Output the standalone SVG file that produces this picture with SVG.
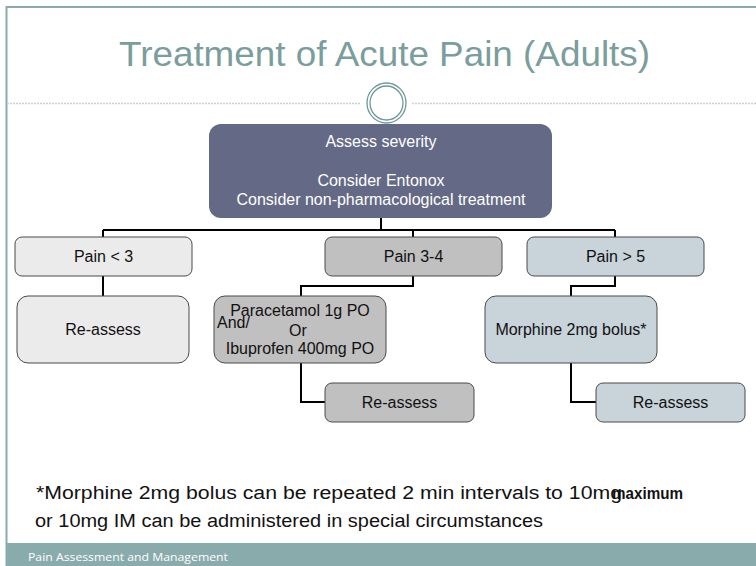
<svg xmlns="http://www.w3.org/2000/svg" width="756" height="566" viewBox="0 0 756 566">
  <style>
    .frame { stroke: #8aabab; stroke-width: 2; fill: none; }
    .dots { stroke: #c9d2d2; stroke-width: 1.5; stroke-dasharray: 2 1; fill: none; }
    .title { font-family: "Liberation Sans Narrow", "Liberation Sans", Arial, sans-serif; font-size: 35px; fill: #7a9d9d; }
    .box { stroke: #4a4a4a; stroke-width: 1; }
    .lbl { font-family: "Liberation Sans", Arial, sans-serif; font-size: 16px; fill: #111; text-anchor: middle; }
    .lbl-w { font-family: "Liberation Sans", Arial, sans-serif; font-size: 16px; fill: #ffffff; text-anchor: middle; }
    .wire { stroke: #000; stroke-width: 2; fill: none; }
    .note { font-family: "Liberation Sans Narrow", "Liberation Sans", Arial, sans-serif; font-size: 18px; fill: #111; }
    .foot { font-family: "Open Sans", "Liberation Sans", sans-serif; font-size: 11px; fill: #ffffff; }
  </style>

  <!-- slide frame -->
  <rect x="0" y="0" width="756" height="566" fill="#ffffff"/>
  <line class="frame" x1="6" y1="7" x2="756" y2="7"/>
  <line class="frame" x1="6.5" y1="6" x2="6.5" y2="566"/>

  <!-- title -->
  <text class="title" x="119" y="66" textLength="531" lengthAdjust="spacingAndGlyphs">Treatment of Acute Pain (Adults)</text>

  <!-- divider with ring ornament -->
  <line class="dots" x1="7" y1="103.5" x2="361" y2="103.5"/>
  <line class="dots" x1="412" y1="103.5" x2="756" y2="103.5"/>
  <ellipse cx="386.5" cy="103" rx="19.5" ry="20" fill="#ffffff" stroke="#6f9797" stroke-width="1.3"/>
  <ellipse cx="386.5" cy="103" rx="16.5" ry="17" fill="none" stroke="#6f9797" stroke-width="1.3"/>

  <!-- connectors -->
  <g id="connectors">
    <path class="wire" d="M381 218 V230"/>
    <path class="wire" d="M103 230 H615"/>
    <path class="wire" d="M103 230 V237 M413 230 V237 M615 230 V237"/>
    <path class="wire" d="M103 276 V296"/>
    <path class="wire" d="M413 276 V286 H301 V296"/>
    <path class="wire" d="M301 363 V402 H325"/>
    <path class="wire" d="M615 276 V286 H571 V296"/>
    <path class="wire" d="M571 363 V402 H596"/>
  </g>

  <!-- nodes -->
  <g id="assess">
    <rect x="209" y="124" width="343" height="94" rx="12" fill="#646a86"/>
    <text class="lbl-w" x="381" y="147">Assess severity</text>
    <text class="lbl-w" x="381" y="186">Consider Entonox</text>
    <text class="lbl-w" x="381" y="205">Consider non-pharmacological treatment</text>
  </g>

  <g id="pain-low">
    <rect class="box" x="15" y="237" width="177" height="39" rx="7" fill="#ebebeb"/>
    <text class="lbl" x="103.5" y="262">Pain &lt; 3</text>
  </g>

  <g id="pain-mid">
    <rect class="box" x="325" y="237" width="177" height="39" rx="7" fill="#c0c0c0"/>
    <text class="lbl" x="413.5" y="262">Pain 3-4</text>
  </g>

  <g id="pain-high">
    <rect class="box" x="527" y="237" width="177" height="39" rx="7" fill="#c8d3da"/>
    <text class="lbl" x="615.5" y="262">Pain &gt; 5</text>
  </g>

  <g id="reassess-low">
    <rect class="box" x="17" y="296" width="172" height="67" rx="11" fill="#ebebeb"/>
    <text class="lbl" x="103" y="335">Re-assess</text>
  </g>

  <g id="analgesia">
    <rect class="box" x="214" y="296" width="172" height="67" rx="11" fill="#c0c0c0"/>
    <text class="lbl" x="300" y="316">Paracetamol 1g PO</text>
    <text class="lbl" x="217" y="328" style="text-anchor:start">And/</text>
    <text class="lbl" x="298" y="336">Or</text>
    <text class="lbl" x="300" y="354">Ibuprofen 400mg PO</text>
  </g>

  <g id="reassess-mid">
    <rect class="box" x="325" y="383" width="149" height="39" rx="7" fill="#c0c0c0"/>
    <text class="lbl" x="399.5" y="408">Re-assess</text>
  </g>

  <g id="morphine">
    <rect class="box" x="485" y="296" width="172" height="67" rx="11" fill="#c8d3da"/>
    <text class="lbl" x="571" y="335">Morphine 2mg bolus*</text>
  </g>

  <g id="reassess-high">
    <rect class="box" x="596" y="383" width="149" height="39" rx="7" fill="#c8d3da"/>
    <text class="lbl" x="670.5" y="408">Re-assess</text>
  </g>

  <!-- footnote -->
  <text class="note" x="36" y="499" textLength="586" lengthAdjust="spacingAndGlyphs">*Morphine 2mg bolus can be repeated 2 min intervals to 10mg</text>
  <text x="612" y="499" font-family="Liberation Sans, Arial, sans-serif" font-size="16" font-weight="bold" fill="#111" textLength="71" lengthAdjust="spacingAndGlyphs">maximum</text>
  <text class="note" x="35" y="527" textLength="508" lengthAdjust="spacingAndGlyphs">or 10mg IM can be administered in special circumstances</text>

  <!-- footer band -->
  <rect x="6" y="543" width="750" height="23" fill="#8aabab"/>
  <text class="foot" x="28" y="561" textLength="200" lengthAdjust="spacingAndGlyphs">Pain Assessment and Management</text>
</svg>
